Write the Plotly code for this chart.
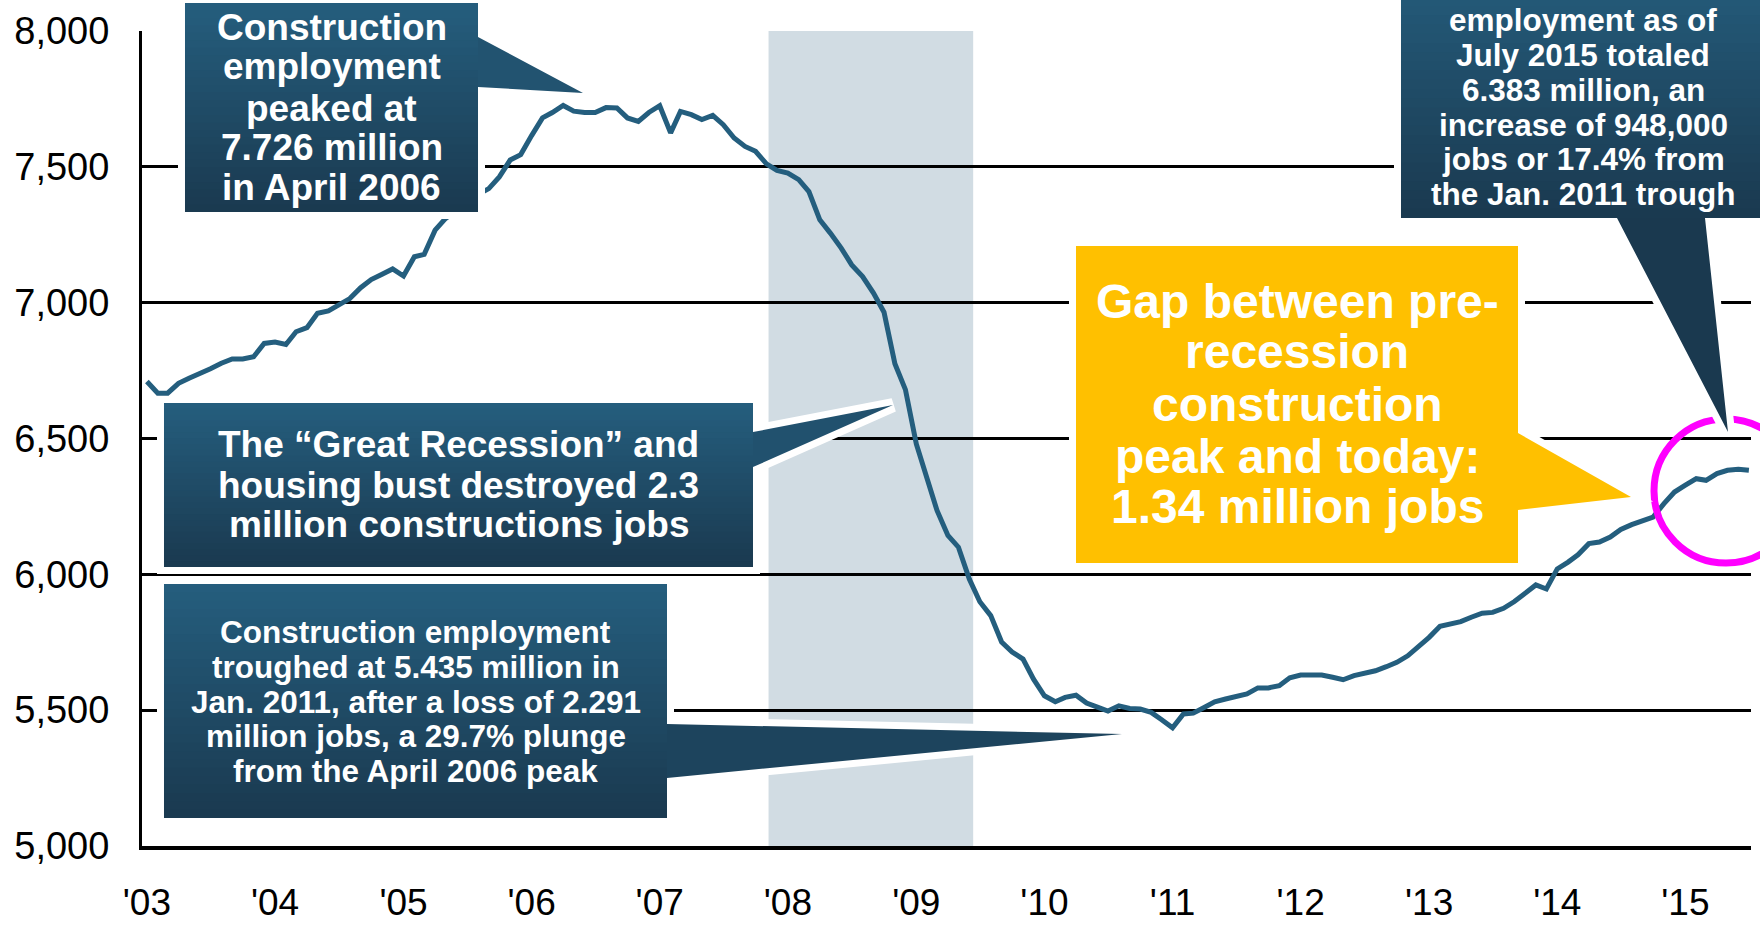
import plotly.graph_objects as go
import pandas as pd

# ---------------- data (thousands of jobs, monthly, Jan 2003 - Jul 2015) ----------------
emp_2003 = [6710, 6667, 6667, 6703, 6722, 6738, 6757, 6777, 6793, 6793, 6801, 6850]
emp_2004 = [6855, 6846, 6893, 6908, 6961, 6970, 6990, 7015, 7055, 7085, 7105, 7124]
emp_2005 = [7098, 7169, 7178, 7267, 7310, 7340, 7370, 7398, 7420, 7463, 7525, 7545]
emp_2006 = [7615, 7680, 7700, 7726, 7705, 7700, 7700, 7718, 7717, 7680, 7667, 7700]
emp_2007 = [7725, 7625, 7704, 7692, 7674, 7689, 7655, 7606, 7575, 7557, 7511, 7487]
emp_2008 = [7477, 7453, 7409, 7305, 7256, 7201, 7139, 7096, 7035, 6965, 6775, 6680]
emp_2009 = [6480, 6352, 6235, 6143, 6100, 5983, 5899, 5848, 5751, 5714, 5688, 5614]
emp_2010 = [5553, 5531, 5547, 5555, 5526, 5511, 5497, 5516, 5506, 5504, 5492, 5465]
emp_2011 = [5435, 5486, 5489, 5510, 5531, 5541, 5551, 5560, 5582, 5582, 5590, 5619]
emp_2012 = [5629, 5629, 5629, 5621, 5612, 5627, 5635, 5645, 5660, 5676, 5700, 5731]
emp_2013 = [5768, 5809, 5817, 5826, 5842, 5857, 5860, 5875, 5900, 5928, 5961, 5946]
emp_2014 = [6020, 6045, 6072, 6113, 6119, 6137, 6165, 6183, 6199, 6211, 6260, 6303]
emp_2015 = [6328, 6352, 6346, 6371, 6383, 6387, 6383]

employment = (emp_2003 + emp_2004 + emp_2005 + emp_2006 + emp_2007 + emp_2008 + emp_2009
              + emp_2010 + emp_2011 + emp_2012 + emp_2013 + emp_2014 + emp_2015)
months = pd.date_range("2003-01-01", periods=len(employment), freq="MS")

tick_years = [f"{y}-01-01" for y in range(2003, 2016)]
tick_labels = ["'03", "'04", "'05", "'06", "'07", "'08", "'09", "'10", "'11", "'12", "'13", "'14", "'15"]
y_ticks = [5000, 5500, 6000, 6500, 7000, 7500, 8000]
y_labels = ["5,000", "5,500", "6,000", "6,500", "7,000", "7,500", "8,000"]

recession_start = "2007-11-07"
recession_end = "2009-06-12"

callout1_text = ["Construction", "employment", "peaked at", "7.726 million", "in April 2006"]
callout2_text = ["The \u201cGreat Recession\u201d and", "housing bust destroyed 2.3", "million constructions jobs"]
callout3_text = ["Construction employment", "troughed at 5.435 million in",
                 "Jan. 2011, after a loss of 2.291", "million jobs, a 29.7% plunge",
                 "from the April 2006 peak"]
callout4_text = ["employment as of", "July 2015 totaled", "6.383 million, an",
                 "increase of 948,000", "jobs or 17.4% from", "the Jan. 2011 trough"]
gap_text = ["Gap between pre-", "recession", "construction", "peak and today:", "1.34 million jobs"]

# ---------------- layout geometry ----------------
W, H = 1760, 926
L, R, T, B = 142, 9, 31, 80
PW = W - L - R
PH = H - T - B


def px(x):
    return (x - L) / PW


def py(y):
    return (H - B - y) / PH


def path(points):
    return "M " + " L ".join(f"{px(x):.5f},{py(y):.5f}" for x, y in points) + " Z"


LINE_COLOR = "#245E7E"
TOP = (37, 94, 126)
BOT = (26, 57, 79)
YELLOW = "#FFC000"
FONT = "Liberation Sans, Arial, sans-serif"


def mix(t):
    c = [round(TOP[i] + (BOT[i] - TOP[i]) * t) for i in range(3)]
    return f"rgb({c[0]},{c[1]},{c[2]})"


shapes = []

# recession shading (between grid and trace)
shapes.append(dict(type="rect", xref="x", yref="paper", x0=recession_start, x1=recession_end,
                   y0=0, y1=1, fillcolor="#D1DCE3", line_width=0, layer="between"))

# magenta circle (drawn before callout 4 so its white outline cuts it)
shapes.append(dict(type="circle", xref="paper", yref="paper",
                   x0=px(1654), x1=px(1798), y0=py(563), y1=py(419),
                   line=dict(color="#FF00FF", width=7), fillcolor="rgba(0,0,0,0)", layer="above"))


def callout(box, pointer, pointer_color, gradient=True, fill=None):
    x0, y0, x1, y1 = box
    pts = pointer
    shapes.append(dict(type="path", xref="paper", yref="paper", path=path(pts),
                       fillcolor="white", line=dict(color="white", width=14), layer="above"))
    shapes.append(dict(type="path", xref="paper", yref="paper", path=path(pts),
                       fillcolor=pointer_color if gradient else fill, line_width=0, layer="above"))
    if gradient:
        n = 28
        hh = (y1 - y0) / n
        for i in range(n):
            ya = y0 + i * hh
            yb = min(ya + hh + 1.0, y1)
            shapes.append(dict(type="rect", xref="paper", yref="paper",
                               x0=px(x0), x1=px(x1), y0=py(yb), y1=py(ya),
                               fillcolor=mix((i + 0.5) / n), line_width=0, layer="above"))


callout((185, 3, 478, 212),
        [(185, 3), (478, 3), (478, 37), (583, 93), (478, 87), (478, 212), (185, 212)],
        mix(0.3))
callout((164, 403, 753, 567),
        [(164, 403), (753, 403), (753, 432), (893, 405), (753, 467), (753, 567), (164, 567)],
        mix(0.35))
callout((164, 584, 667, 818),
        [(164, 584), (667, 584), (667, 724), (1122, 734), (667, 778), (667, 818), (164, 818)],
        mix(0.7))
callout((1401, -40, 1775, 218),
        [(1401, -40), (1775, -40), (1775, 218), (1705, 218), (1728, 432), (1617, 218), (1401, 218)],
        mix(1.0))
callout((1076, 246, 1518, 563),
        [(1076, 246), (1518, 246), (1518, 433), (1631, 497), (1518, 510), (1518, 563), (1076, 563)],
        None, gradient=False, fill=YELLOW)

annotations = []


def add_lines(lines, cx, ys, size):
    for t, yy in zip(lines, ys):
        annotations.append(dict(xref="paper", yref="paper", x=px(cx), y=py(yy), text=t,
                                showarrow=False, xanchor="center", yanchor="middle",
                                font=dict(family=FONT, size=size, color="white", weight="bold")))


add_lines(callout1_text, 331.5, [27, 67, 108, 148, 187], 37)
add_lines(callout2_text, 458.5, [444.5, 485, 524], 37)
add_lines(callout3_text, 415.5, [632, 667, 701.5, 736, 771], 31.5)
add_lines(callout4_text, 1583, [20, 55, 90, 124.6, 159, 194], 31.5)
add_lines(gap_text, 1297, [301, 352, 404, 456, 507], 48)

fig = go.Figure()
fig.add_trace(go.Scatter(x=months, y=employment, mode="lines",
                         line=dict(color=LINE_COLOR, width=5), hoverinfo="skip"))

fig.update_layout(
    width=W, height=H,
    margin=dict(l=L, r=R, t=T, b=B, autoexpand=False),
    paper_bgcolor="white", plot_bgcolor="white",
    showlegend=False,
    shapes=shapes,
    annotations=annotations,
    font=dict(family=FONT, color="black"),
)
fig.update_xaxes(range=["2002-12-18", "2015-07-07"], tickvals=tick_years, ticktext=tick_labels,
                 showgrid=False, showline=True, linecolor="black", linewidth=4,
                 ticks="", tickfont=dict(size=37, color="black", family=FONT),
                 ticklabelstandoff=21, zeroline=False, automargin=False)
fig.update_yaxes(range=[5000, 8000], tickvals=y_ticks, ticktext=y_labels,
                 showgrid=True, gridcolor="black", gridwidth=2.5,
                 showline=True, linecolor="black", linewidth=3,
                 ticks="", tickfont=dict(size=38, color="black", family=FONT),
                 ticklabelstandoff=22, zeroline=False, automargin=False)

fig.write_html("out.html", config={"displayModeBar": False},
               post_script="document.body.style.margin='0';document.body.style.overflow='hidden';")
